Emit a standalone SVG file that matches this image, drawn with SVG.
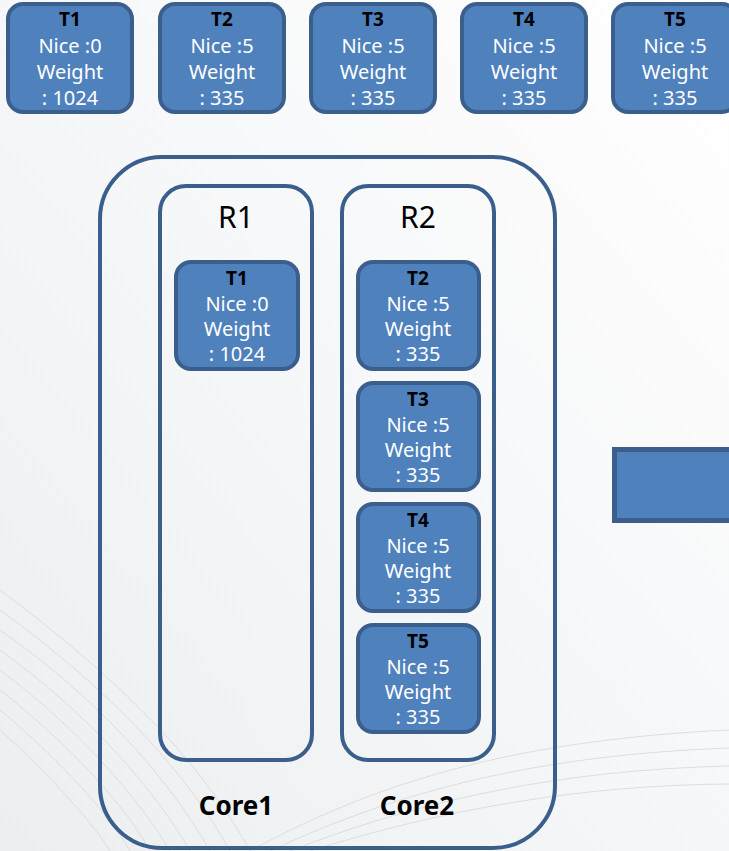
<svg xmlns="http://www.w3.org/2000/svg" width="729" height="851" viewBox="0 0 729 851">
  <defs>
    <linearGradient id="bg" x1="1" y1="0" x2="0" y2="1">
      <stop offset="0" stop-color="#ffffff"/>
      <stop offset="0.5" stop-color="#f6f7f8"/>
      <stop offset="1" stop-color="#eceef0"/>
    </linearGradient>
    <style>
      .task { fill: #4f81bd; stroke: #3b5f8d; stroke-width: 4; }
      .frame { fill: none; stroke: #3b5f8d; stroke-width: 4; }
      .tid { font-family: "Noto Sans", "Open Sans", sans-serif; font-size: 19px; font-weight: bold; fill: #000; text-anchor: middle; }
      .tval { font-family: "Noto Sans", "Open Sans", sans-serif; font-size: 20px; fill: #ffffff; text-anchor: middle; }
      .rq { font-family: "Noto Sans", "Open Sans", sans-serif; font-size: 30px; fill: #000; text-anchor: middle; }
      .core { font-family: "Noto Sans", "Open Sans", sans-serif; font-size: 26px; font-weight: bold; fill: #000; text-anchor: middle; }
      .swirl { fill: none; stroke: #d6d9dc; stroke-width: 1; opacity: 0.85; }
    </style>
  </defs>

  <!-- background -->
  <rect x="0" y="0" width="729" height="851" fill="url(#bg)"/>
  <g id="background-lines">
    <path class="swirl" d="M0 590 C120 680 200 760 250 851"/>
    <path class="swirl" d="M0 610 C110 690 185 770 230 851"/>
    <path class="swirl" d="M0 630 C100 700 170 780 210 851"/>
    <path class="swirl" d="M0 650 C90 715 155 790 190 851"/>
    <path class="swirl" d="M0 670 C80 730 140 800 170 851"/>
    <path class="swirl" d="M0 690 C70 745 125 805 150 851"/>
    <path class="swirl" d="M0 710 C60 760 110 815 130 851"/>
    <path class="swirl" d="M0 730 C50 775 95 825 110 851"/>
    <path class="swirl" d="M250 851 C380 780 520 740 729 730"/>
    <path class="swirl" d="M270 851 C400 790 540 755 729 748"/>
    <path class="swirl" d="M290 851 C420 800 560 770 729 766"/>
    <path class="swirl" d="M310 851 C440 810 580 785 729 784"/>
  </g>

  <!-- task list -->
  <g id="task-T1">
    <rect class="task" x="8" y="4" width="124" height="108" rx="15"/>
    <text class="tid" x="70" y="26">T1</text>
    <text class="tval" x="70" y="53">Nice :0</text>
    <text class="tval" x="70" y="79">Weight</text>
    <text class="tval" x="70" y="105">: 1024</text>
  </g>
  <g id="task-T2">
    <rect class="task" x="160" y="4" width="124" height="108" rx="15"/>
    <text class="tid" x="222" y="26">T2</text>
    <text class="tval" x="222" y="53">Nice :5</text>
    <text class="tval" x="222" y="79">Weight</text>
    <text class="tval" x="222" y="105">: 335</text>
  </g>
  <g id="task-T3">
    <rect class="task" x="311" y="4" width="124" height="108" rx="15"/>
    <text class="tid" x="373" y="26">T3</text>
    <text class="tval" x="373" y="53">Nice :5</text>
    <text class="tval" x="373" y="79">Weight</text>
    <text class="tval" x="373" y="105">: 335</text>
  </g>
  <g id="task-T4">
    <rect class="task" x="462" y="4" width="124" height="108" rx="15"/>
    <text class="tid" x="524" y="26">T4</text>
    <text class="tval" x="524" y="53">Nice :5</text>
    <text class="tval" x="524" y="79">Weight</text>
    <text class="tval" x="524" y="105">: 335</text>
  </g>
  <g id="task-T5">
    <rect class="task" x="613" y="4" width="124" height="108" rx="15"/>
    <text class="tid" x="675" y="26">T5</text>
    <text class="tval" x="675" y="53">Nice :5</text>
    <text class="tval" x="675" y="79">Weight</text>
    <text class="tval" x="675" y="105">: 335</text>
  </g>

  <!-- CPU package with two cores -->
  <g id="cpu">
    <rect class="frame" x="100" y="157" width="455" height="691" rx="62"/>
    <text class="core" x="236" y="815">Core1</text>
    <text class="core" x="417" y="815">Core2</text>
  </g>

  <!-- run queue of core 1 -->
  <g id="runqueue-R1">
    <rect class="frame" x="160" y="186" width="152" height="574" rx="26"/>
    <text class="rq" x="236" y="228">R1</text>
  </g>
  <!-- run queue of core 2 -->
  <g id="runqueue-R2">
    <rect class="frame" x="342" y="186" width="152" height="574" rx="26"/>
    <text class="rq" x="418" y="228">R2</text>
  </g>

  <g id="R1-T1">
    <rect class="task" x="176" y="262" width="122" height="107" rx="15"/>
    <text class="tid" x="237" y="285">T1</text>
    <text class="tval" x="237" y="311">Nice :0</text>
    <text class="tval" x="237" y="336">Weight</text>
    <text class="tval" x="237" y="361">: 1024</text>
  </g>
  <g id="R2-T2">
    <rect class="task" x="358" y="262" width="121" height="107" rx="15"/>
    <text class="tid" x="418" y="285">T2</text>
    <text class="tval" x="418" y="311">Nice :5</text>
    <text class="tval" x="418" y="336">Weight</text>
    <text class="tval" x="418" y="361">: 335</text>
  </g>
  <g id="R2-T3">
    <rect class="task" x="358" y="383" width="121" height="107" rx="15"/>
    <text class="tid" x="418" y="406">T3</text>
    <text class="tval" x="418" y="432">Nice :5</text>
    <text class="tval" x="418" y="457">Weight</text>
    <text class="tval" x="418" y="482">: 335</text>
  </g>
  <g id="R2-T4">
    <rect class="task" x="358" y="504" width="121" height="107" rx="15"/>
    <text class="tid" x="418" y="527">T4</text>
    <text class="tval" x="418" y="553">Nice :5</text>
    <text class="tval" x="418" y="578">Weight</text>
    <text class="tval" x="418" y="603">: 335</text>
  </g>
  <g id="R2-T5">
    <rect class="task" x="358" y="625" width="121" height="107" rx="15"/>
    <text class="tid" x="418" y="648">T5</text>
    <text class="tval" x="418" y="674">Nice :5</text>
    <text class="tval" x="418" y="699">Weight</text>
    <text class="tval" x="418" y="724">: 335</text>
  </g>

  <!-- block at the right edge -->
  <g id="side-block">
    <rect x="614.5" y="449.5" width="130" height="71" fill="#4f81bd" stroke="#3b5f8d" stroke-width="5"/>
  </g>

  <g id="connectors"/>
</svg>
